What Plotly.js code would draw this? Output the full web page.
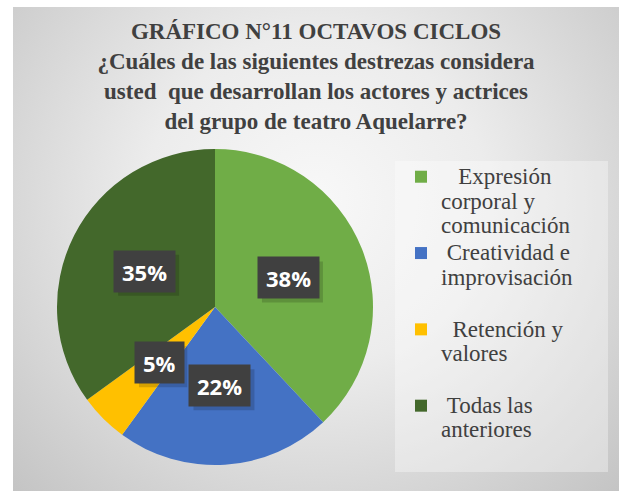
<!DOCTYPE html>
<html>
<head>
<meta charset="utf-8">
<script src="https://cdn.plot.ly/plotly-3.0.1.min.js"></script>
<style>
  html, body { margin:0; padding:0; background:#ffffff; }
  #bg { position:absolute; left:13px; top:7px; width:606px; height:484px;
        background: radial-gradient(ellipse farthest-corner at 50% 40%, #f8f8f8 0%, #ececec 40%, #c4c4c4 100%); }
  #chart { position:absolute; left:0; top:0; width:619px; height:491px; }
</style>
</head>
<body>
<div id="bg"></div>
<div id="chart"></div>
<script>
// ---- data ----
const categories = [
  "\u00a0\u00a0\u00a0Expresión<br>corporal y<br>comunicación",
  "\u00a0Creatividad e<br>improvisación<br>\u00a0",
  "\u00a0\u00a0Retención y<br>valores<br>\u00a0",
  "\u00a0Todas las<br>anteriores<br>\u00a0"
];
const values = [38, 22, 5, 35];
const colors = ["#70AD47", "#4472C4", "#FFC000", "#43682B"];
const titleLines = [
  "GRÁFICO N°11 OCTAVOS CICLOS",
  "¿Cuáles de las siguientes destrezas considera",
  "usted  que desarrollan los actores y actrices",
  "del grupo de teatro Aquelarre?"
];

// ---- layout constants ----
const W = 619, H = 491;
const cx = 215, cy = 307, R = 158;
const domX = [(cx - R) / W, (cx + R) / W];
const domY = [1 - (cy + R) / H, 1 - (cy - R) / H];

// legend labels: larger visible glyphs on a tighter line pitch
const legendLabels = categories.map(c =>
  c.split("<br>").map(l => '<span style="font-size:23px">' + l + '</span>').join("<br>")
);

const total = values.reduce((a, b) => a + b, 0);
const annotations = [];
const shadowShapes = [];
let cum = 0;
values.forEach((v, i) => {
  const mid = (cum + v / 2) / total * 2 * Math.PI;
  cum += v;
  const px = cx + 0.5 * R * Math.sin(mid);
  const py = cy - 0.5 * R * Math.cos(mid);
  const txt = Math.round(v / total * 100) + "%";
  const ax = px / W, ay = 1 - py / H;
  // approximate label box width for the soft shadow
  const bw = 16 + (txt.length - 1) * 12.6 + 19.8;
  shadowShapes.push({
    type: "rect", xref: "paper", yref: "paper", layer: "above",
    xsizemode: "pixel", ysizemode: "pixel", xanchor: ax, yanchor: ay,
    x0: -bw / 2 + 4, x1: bw / 2 + 4, y0: -20.5 - 4, y1: 20.5 - 4,
    fillcolor: "rgba(0,0,0,0.16)", line: { width: 0 }
  });
  annotations.push({
    x: ax, y: ay, xref: "paper", yref: "paper",
    xanchor: "center", yanchor: "middle",
    showarrow: false, text: txt, height: 25, borderpad: 8,
    bgcolor: "#404040",
    font: { family: "Open Sans", size: 22, weight: "bold", color: "#ffffff" }
  });
});

const trace = {
  type: "pie",
  labels: legendLabels,
  values: values,
  sort: false,
  direction: "clockwise",
  rotation: 0,
  marker: { colors: colors, line: { width: 0 } },
  textinfo: "none",
  hoverinfo: "percent",
  domain: { x: domX, y: domY }
};

const layout = {
  width: W, height: H,
  margin: { l: 0, r: 0, t: 0, b: 0 },
  paper_bgcolor: "rgba(0,0,0,0)",
  plot_bgcolor: "rgba(0,0,0,0)",
  font: { family: "Liberation Serif", color: "#404040" },
  title: {
    text: titleLines.join("<br>"),
    x: 316 / W, xanchor: "center",
    y: 1 - 39 / H, yanchor: "top",
    font: { family: "Liberation Serif", size: 23, color: "#404040", weight: "bold" }
  },
  showlegend: true,
  legend: {
    x: 401 / W, xanchor: "left",
    y: 1 - 158 / H, yanchor: "top",
    bgcolor: "rgba(0,0,0,0)",
    borderwidth: 0,
    valign: "top",
    itemwidth: 30,
    font: { family: "Liberation Serif", size: 18.8, color: "#404040" }
  },
  shapes: [{
    type: "rect", xref: "paper", yref: "paper", layer: "below",
    x0: 395 / W, x1: 608 / W, y0: 1 - 472 / H, y1: 1 - 161 / H,
    fillcolor: "rgba(255,255,255,0.35)", line: { width: 0 }
  }].concat(shadowShapes),
  annotations: annotations
};

Plotly.newPlot("chart", [trace], layout, { displayModeBar: false, staticPlot: true });
</script>
</body>
</html>
